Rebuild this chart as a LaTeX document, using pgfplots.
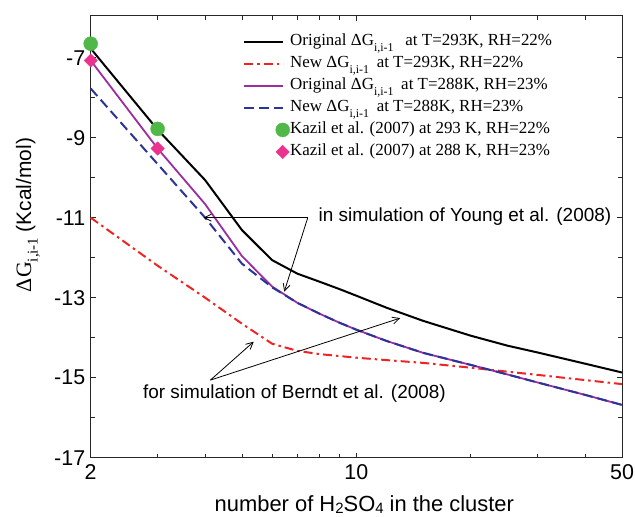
\documentclass[border=0pt]{standalone}
\usepackage{fontspec}
\setmainfont{Liberation Serif}
\newfontfamily\arial{Liberation Sans}
\usepackage{pgfplots}
\pgfplotsset{compat=1.18}
\usetikzlibrary{arrows.meta}

\definecolor{cRed}{RGB}{238,36,36}
\definecolor{cPurple}{RGB}{156,45,160}
\definecolor{cBlue}{RGB}{44,52,150}
\definecolor{cGreen}{RGB}{80,184,72}
\definecolor{cPink}{RGB}{236,50,142}

% lowered subscripts: legend and y label (serif), x label (sans)
\newcommand\lsub[1]{\raisebox{-0.32em}{\fontsize{12}{12}\selectfont #1}}
\newcommand\ysub[1]{\raisebox{-0.3em}{\fontsize{15}{15}\selectfont #1}}
\newcommand\asub[1]{\raisebox{-0.12em}{\fontsize{15}{15}\selectfont #1}}

% legend images: a short line for curves, a single mark at its right end for data points
\pgfplotsset{
  lineleg/.style={legend image code/.code={\draw[##1] (0bp,0bp) -- (39bp,0bp);}},
  markleg/.style={legend image code/.code={\draw[##1, overlay] plot coordinates {(38.5bp,0bp)};}},
}

\begin{document}
\begin{tikzpicture}
\begin{axis}[
  xmode=log,
  scale only axis, width=531.3bp, height=442bp,
  xmin=2, xmax=50, ymin=-17, ymax=-5.95,
  xtick={2,10,50}, xticklabels={2,10,50},
  minor xtick={3,4,5,6,7,8,9,20,30,40},
  ytick={-17,-15,-13,-11,-9,-7}, yticklabels={-17,-15,-13,-11,-9,-7},
  minor ytick={-16,-14,-12,-10,-8},
  tick align=inside, tick pos=both,
  major tick length=5bp, minor tick length=4bp,
  every tick/.style={line width=0.9bp, black!85},
  axis line style={line width=1bp, black!85},
  tick label style={font=\arial\fontsize{21.5}{22}\selectfont},
  xticklabel style={yshift=-3bp},
  yticklabel style={xshift=-2bp},
  xlabel={number of H\asub{2}SO\asub{4} in the cluster},
  xlabel style={font=\arial\fontsize{22}{22}\selectfont, at={(axis description cs:0.5,0)}, anchor=base, yshift=-53.5bp, xshift=8bp},
  ylabel={\fontsize{22}{22}\selectfont ΔG\ysub{i,i-1} {\arial\fontsize{21}{21}\selectfont (Kcal/mol)}},
  ylabel style={at={(axis description cs:-0.118,0.549)}, anchor=center, rotate=0},
  clip=false,
  legend style={at={(rel axis cs:0.2867,0.966)}, anchor=north west, draw=none, fill=none,
    inner sep=0pt, row sep=0pt, column sep=4bp,
    font=\fontsize{17}{17}\selectfont,
    nodes={inner sep=2bp, text height=13bp, text depth=5bp}},
  legend cell align=left,
  lineleg,
]
\coordinate (bl) at (rel axis cs:0,0);

% Original, T = 293 K
\addplot[black, line width=2bp] coordinates {
 (2,-6.77) (3,-8.80) (4,-10.06) (5,-11.31) (6,-12.06) (7,-12.40) (8,-12.60)
 (9,-12.78) (10,-12.95) (12,-13.25) (15,-13.58) (20,-13.95) (25,-14.20)
 (30,-14.37) (40,-14.65) (50,-14.87)};
\addlegendentry{Original ΔG\lsub{i,i-1}\hspace{0.45em} at T=293K, RH=22\%}

% New, T = 293 K
\addplot[cRed, line width=2bp, dash pattern=on 9bp off 4bp on 2.5bp off 4bp] coordinates {
 (2,-11.00) (3,-12.20) (4,-13.00) (5,-13.65) (6,-14.15) (7,-14.33) (8,-14.41)
 (10,-14.50) (12,-14.56) (15,-14.63) (20,-14.75) (25,-14.85) (30,-14.93)
 (40,-15.06) (50,-15.16)};
\addlegendentry{New ΔG\lsub{i,i-1}\hspace{0.45em}at T=293K, RH=22\%}

% Original, T = 288 K
\addplot[cPurple, line width=1.8bp] coordinates {
 (2,-7.07) (3,-9.27) (4,-10.66) (5,-11.96) (6,-12.72) (7,-13.13) (8,-13.40)
 (9,-13.62) (10,-13.80) (12,-14.08) (15,-14.38) (20,-14.68) (25,-14.92)
 (30,-15.12) (40,-15.43) (50,-15.68)};
\addlegendentry{Original ΔG\lsub{i,i-1}\hspace{0.45em}at T=288K, RH=23\%}

% New, T = 288 K
\addplot[cBlue, line width=2bp, dash pattern=on 10bp off 5bp] coordinates {
 (2,-7.77) (3,-9.66) (4,-11.00) (5,-12.15) (6,-12.74) (7,-13.13) (8,-13.40)
 (9,-13.62) (10,-13.80) (12,-14.08) (15,-14.38) (20,-14.68) (25,-14.92)
 (30,-15.12) (40,-15.43) (50,-15.68)};
\addlegendentry{New ΔG\lsub{i,i-1}\hspace{0.45em}at T=288K, RH=23\%}

% Kazil et al. (2007)
\addplot[only marks, mark=*, mark size=7bp, color=cGreen, mark options={draw=none, fill=cGreen}, markleg]
  coordinates {(2,-6.65) (3,-8.78)};
\addlegendentry{Kazil et al. (2007) at 293 K, RH=22\%}

\addplot[only marks, mark=square*, mark size=4.7bp, color=cPink, mark options={draw=none, fill=cPink, rotate=45}, markleg]
  coordinates {(2,-7.07) (3,-9.27)};
\addlegendentry{Kazil et al. (2007) at 288 K, RH=23\%}

% annotations
\draw[line width=0.8bp, -{Straight Barb[length=7bp, width=7bp]}] (axis cs:7.45,-11) -- (axis cs:3.96,-11);
\draw[line width=0.8bp, -{Straight Barb[length=7bp, width=7bp]}] (axis cs:7.45,-11) -- (axis cs:6.46,-12.85);
\node[anchor=west, inner sep=0pt, font=\arial\fontsize{19}{19}\selectfont] at (axis cs:7.95,-10.98) {in simulation of Young et al. (2008)};

\draw[line width=0.8bp, -{Straight Barb[length=7bp, width=7bp]}] (axis cs:4.13,-15.06) -- (axis cs:5.37,-14.1);
\draw[line width=0.8bp, -{Straight Barb[length=7bp, width=7bp]}] (axis cs:4.13,-15.06) -- (axis cs:13.04,-13.51);
\node[inner sep=0pt, font=\arial\fontsize{19}{19}\selectfont] at (axis cs:6.87,-15.39) {for simulation of Berndt et al. (2008)};
\end{axis}
\pgfresetboundingbox
\path[use as bounding box] (bl) ++(-90.7bp,-59.3bp) rectangle ++(635bp,517bp);
\end{tikzpicture}
\end{document}
